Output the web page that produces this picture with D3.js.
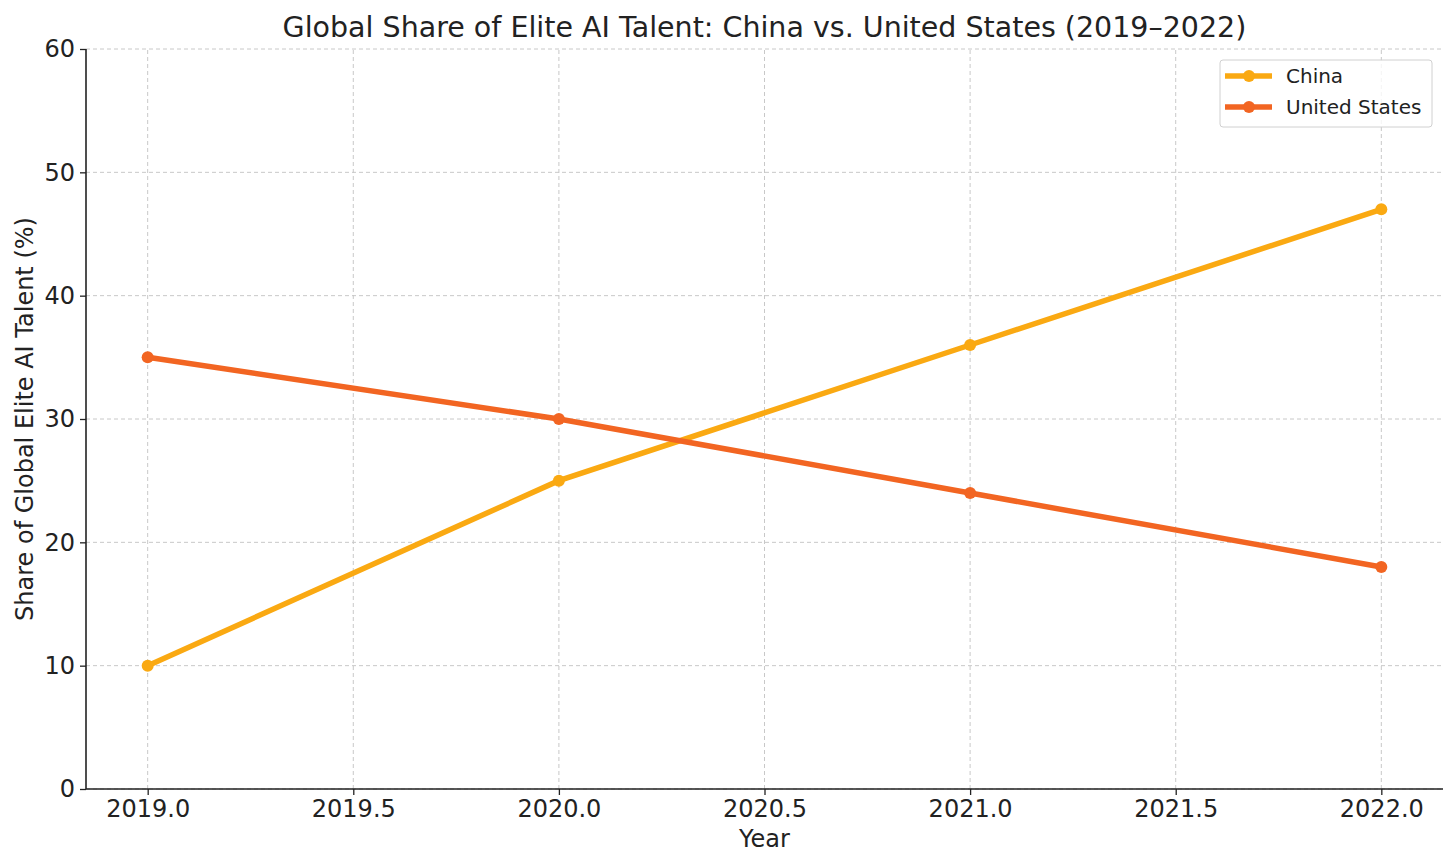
<!DOCTYPE html>
<html>
<head>
<meta charset="utf-8">
<title>Elite AI Talent</title>
<script src="https://d3js.org/d3.v7.min.js"></script>
<style>
  body { margin: 0; background: #fff; }
  text { font-family: "DejaVu Sans", sans-serif; fill: #222; }
</style>
</head>
<body>
<svg id="chart"></svg>
<script>
    var years = [2019, 2020, 2021, 2022];
    var china = [10, 25, 36, 47];
    var usa = [35, 30, 24, 18];
    var seriesNames = ['China', 'United States'];
    var xTicks = [2019.0, 2019.5, 2020.0, 2020.5, 2021.0, 2021.5, 2022.0];
    var yTicks = [0, 10, 20, 30, 40, 50, 60];

    var width = 1456, height = 868;
    var margin = { top: 49, right: 13, bottom: 79, left: 86 };
    var colors = ['#FAA912', '#F26522'];

    var svg = d3.select('#chart')
        .attr('width', width)
        .attr('height', height);

    var x = d3.scaleLinear()
        .domain([2018.85, 2022.15])
        .range([margin.left, width - margin.right]);

    var y = d3.scaleLinear()
        .domain([0, 60])
        .range([height - margin.bottom, margin.top]);

    // grid
    svg.append('g').selectAll('line')
        .data(xTicks)
        .enter()
        .append('line')
        .attr('x1', function (d) { return x(d); })
        .attr('x2', function (d) { return x(d); })
        .attr('y1', y(0))
        .attr('y2', y(60))
        .attr('stroke', '#c8c8c8')
        .attr('stroke-width', 1)
        .attr('stroke-dasharray', '4,3');

    svg.append('g').selectAll('line')
        .data(yTicks)
        .enter()
        .append('line')
        .attr('x1', margin.left)
        .attr('x2', width - margin.right)
        .attr('y1', function (d) { return y(d); })
        .attr('y2', function (d) { return y(d); })
        .attr('stroke', '#c8c8c8')
        .attr('stroke-width', 1)
        .attr('stroke-dasharray', '4,3');

    // axes
    var xAxis = svg.append('g')
        .attr('transform', 'translate(0,' + y(0) + ')')
        .call(d3.axisBottom(x).tickValues(xTicks).tickFormat(d3.format('.1f')).tickSizeOuter(0).tickSize(6).tickPadding(5));

    var yAxis = svg.append('g')
        .attr('transform', 'translate(' + margin.left + ',0)')
        .call(d3.axisLeft(y).tickValues(yTicks).tickSizeOuter(0).tickSize(6).tickPadding(5));

    [xAxis, yAxis].forEach(function (a) {
        a.attr('font-family', null).attr('font-size', null);
        a.selectAll('text').style('font-size', '24px').attr('fill', '#222');
        a.selectAll('line').attr('stroke', '#222').attr('stroke-width', 1.3);
        a.select('.domain').attr('stroke', '#222').attr('stroke-width', 1.6);
    });
    xAxis.select('.domain').attr('d', 'M' + margin.left + ',0H' + (width - margin.right));
    yAxis.select('.domain').attr('d', 'M0,' + y(0) + 'V' + margin.top);

    // lines
    var data = [china, usa];
    var line = d3.line()
        .x(function (d, i) { return x(years[i]); })
        .y(function (d) { return y(d); });

    data.forEach(function (vals, k) {
        svg.append('path')
            .datum(vals)
            .attr('d', line)
            .attr('fill', 'none')
            .attr('stroke', colors[k])
            .attr('stroke-width', 5.5);

        svg.append('g').selectAll('circle')
            .data(vals)
            .enter()
            .append('circle')
            .attr('cx', function (d, i) { return x(years[i]); })
            .attr('cy', function (d) { return y(d); })
            .attr('r', 6)
            .attr('fill', colors[k]);
    });

    // title & labels
    svg.append('text')
        .attr('x', (margin.left + width - margin.right) / 2)
        .attr('y', 37)
        .attr('text-anchor', 'middle')
        .style('font-size', '28.5px')
        .text('Global Share of Elite AI Talent: China vs. United States (2019\u20132022)');

    svg.append('text')
        .attr('x', (margin.left + width - margin.right) / 2)
        .attr('y', 847)
        .attr('text-anchor', 'middle')
        .style('font-size', '24px')
        .text('Year');

    svg.append('text')
        .attr('transform', 'translate(33,' + ((margin.top + height - margin.bottom) / 2) + ') rotate(-90)')
        .attr('text-anchor', 'middle')
        .style('font-size', '24px')
        .text('Share of Global Elite AI Talent (%)');

    // legend
    var lg = svg.append('g').attr('transform', 'translate(1220,60)');
    lg.append('rect')
        .attr('width', 212)
        .attr('height', 67)
        .attr('rx', 3)
        .attr('fill', 'rgba(255,255,255,0.8)')
        .attr('stroke', '#d0d0d0')
        .attr('stroke-width', 1);

    seriesNames.forEach(function (name, k) {
        var yy = 16 + k * 31;
        lg.append('line')
            .attr('x1', 5).attr('x2', 52)
            .attr('y1', yy).attr('y2', yy)
            .attr('stroke', colors[k])
            .attr('stroke-width', 5.5);
        lg.append('circle')
            .attr('cx', 29).attr('cy', yy)
            .attr('r', 6)
            .attr('fill', colors[k]);
        lg.append('text')
            .attr('x', 66)
            .attr('y', yy + 7)
            .style('font-size', '20px')
            .text(name);
    });
</script>
</body>
</html>
